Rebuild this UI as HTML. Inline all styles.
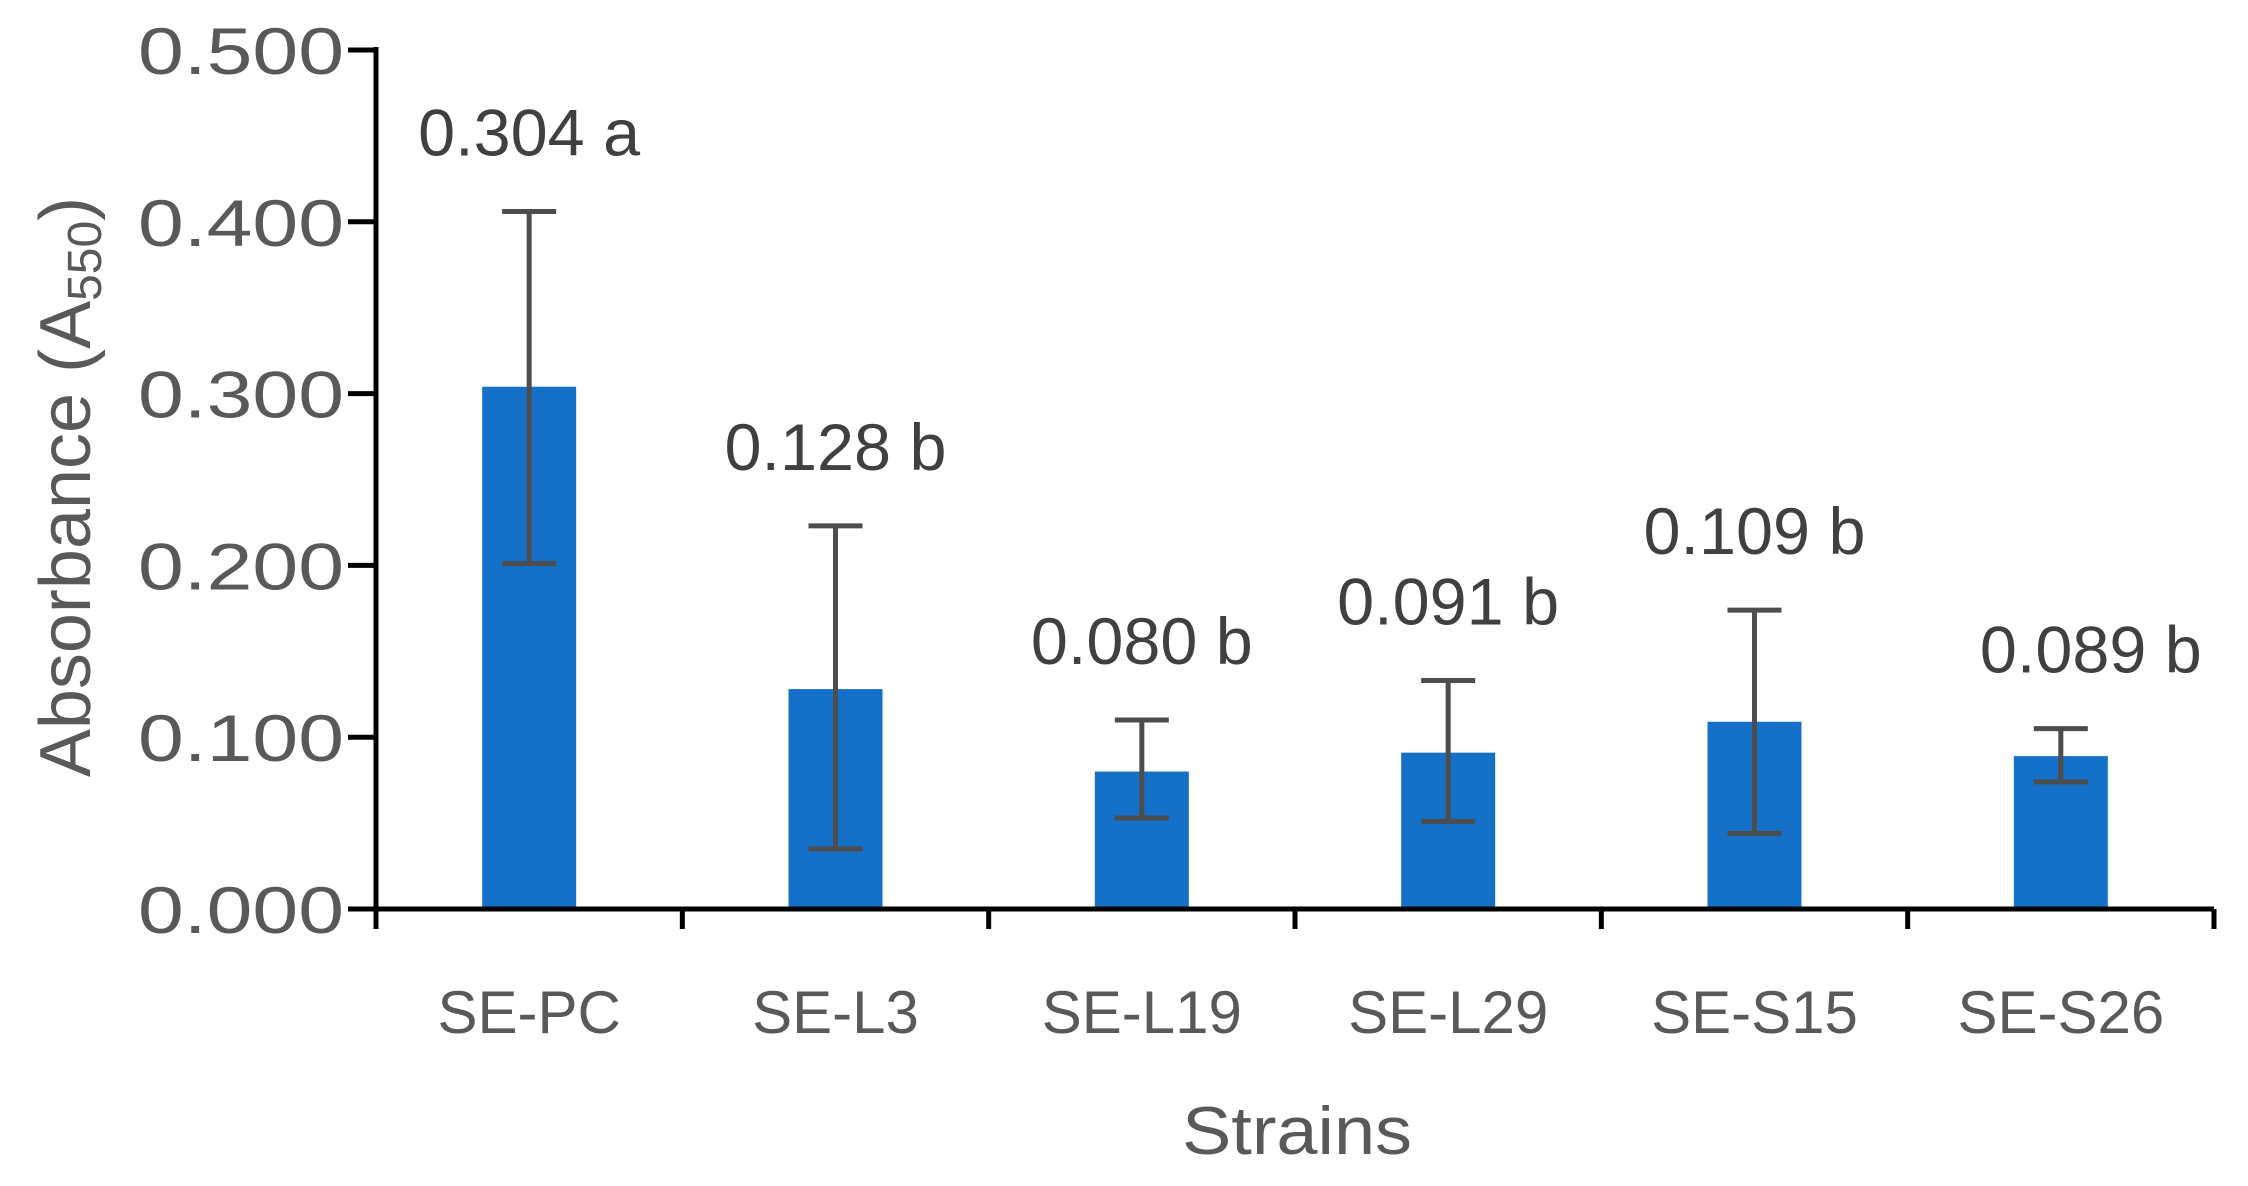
<!DOCTYPE html>
<html><head><meta charset="utf-8"><style>
html,body{margin:0;padding:0;background:#fff;}
svg{display:block;font-family:"Liberation Sans",sans-serif;}
</style></head><body>
<svg id="chart" width="2248" height="1186" viewBox="0 0 2248 1186" xmlns="http://www.w3.org/2000/svg"></svg>
<script>
const categories = ["SE-PC","SE-L3","SE-L19","SE-L29","SE-S15","SE-S26"];
const values = [0.304,0.128,0.080,0.091,0.109,0.089];
const errLow = [0.201,0.035,0.053,0.051,0.044,0.074];
const errHigh = [0.406,0.223,0.110,0.133,0.174,0.105];
const valueLabels = ["0.304 a","0.128 b","0.080 b","0.091 b","0.109 b","0.089 b"];
const yTicks = [0,0.1,0.2,0.3,0.4,0.5];
const yTickLabels = ["0.000","0.100","0.200","0.300","0.400","0.500"];

const NS="http://www.w3.org/2000/svg";
const svg=document.getElementById('chart');
const x0=376,x1=2214,y0=909,yTop=50;
const band=(x1-x0)/categories.length;
function yS(v){return y0-(v/0.5)*(y0-yTop);}
function xC(i){return x0+band*(i+0.5);}
function mk(tag,attrs){const e=document.createElementNS(NS,tag);for(const k in attrs)e.setAttribute(k,attrs[k]);svg.appendChild(e);return e;}

categories.forEach((c,i)=>{
  const b=mk('rect',{x:xC(i)-47,y:yS(values[i]),width:94,height:y0-yS(values[i]),fill:'#1570c8'});
  
  
});
categories.forEach((c,i)=>{
  const g=document.createElementNS(NS,'g');
  
  
  g.setAttribute('stroke','#4d4d4d');g.setAttribute('stroke-width','5');
  const xc=xC(i),yh=yS(errHigh[i]),yl=yS(errLow[i]);
  [[xc,yh,xc,yl],[xc-27,yh,xc+27,yh],[xc-27,yl,xc+27,yl]].forEach(p=>{
    const l=document.createElementNS(NS,'line');
    l.setAttribute('x1',p[0]);l.setAttribute('y1',p[1]);l.setAttribute('x2',p[2]);l.setAttribute('y2',p[3]);
    g.appendChild(l);
  });
  svg.appendChild(g);
});
categories.forEach((c,i)=>{
  const t=mk('text',{x:xC(i)+(i===5?30:0),y:yS(errHigh[i])-56,'text-anchor':'middle','font-size':66,fill:'#404040',textLength:222,lengthAdjust:'spacingAndGlyphs'});
  t.textContent=valueLabels[i];
  
  
});
const ya=mk('line',{x1:x0,y1:yTop-3,x2:x0,y2:y0+2,stroke:'#000','stroke-width':5});

const xa=mk('line',{x1:x0-2,y1:y0,x2:x1,y2:y0,stroke:'#000','stroke-width':5});

yTicks.forEach((v,i)=>{
  const tk=mk('line',{x1:348,y1:yS(v),x2:x0,y2:yS(v),stroke:'#000','stroke-width':5});
  
  const t=mk('text',{x:344,y:yS(v)+24,'text-anchor':'end','font-size':66,fill:'#595959',textLength:206,lengthAdjust:'spacingAndGlyphs'});
  t.textContent=yTickLabels[i];
  
});
for(let i=0;i<=categories.length;i++){
  const tk=mk('line',{x1:x0+band*i,y1:y0,x2:x0+band*i,y2:929,stroke:'#000','stroke-width':5});
  
}
categories.forEach((c,i)=>{
  const t=mk('text',{x:xC(i),y:1033,'text-anchor':'middle','font-size':60,fill:'#595959'});
  t.textContent=c;
  
});
</script>
<svg style="position:absolute;left:0;top:0" width="2248" height="1186">
<text x="1297" y="1154" text-anchor="middle" font-family="Liberation Sans, sans-serif" font-size="68" fill="#595959" textLength="230" lengthAdjust="spacingAndGlyphs">Strains</text>
<text transform="translate(90,487) rotate(-90)" text-anchor="middle" font-family="Liberation Sans, sans-serif" font-size="72" fill="#595959">Absorbance (A<tspan font-size="48" dy="11">550</tspan><tspan dy="-11">)</tspan></text>
</svg>
</body></html>
